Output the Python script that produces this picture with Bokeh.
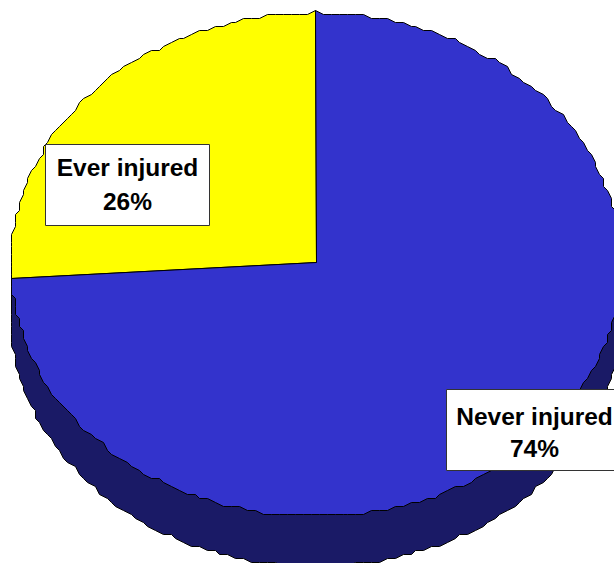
import numpy as np
from bokeh.plotting import figure
from bokeh.embed import file_html
from bokeh.resources import INLINE
from bokeh.core.properties import value

categories = ["Ever injured", "Never injured"]
values = [26, 74]
colors = ["#FFFF00", "#3333CC"]
side_color = "#1A1A66"

CX, CY, RX, RY, DEPTH = 316, 262, 305, 252, 50
STEP = 4
label_boxes = [(45, 209, 144, 225), (446, 640, 389, 470)]
label_x = [127, 534]
label_y1 = [167, 416]
label_y2 = [201, 448]

def pt(t, dy=0):
    x = CX - RX * np.sin(t)
    y = CY - RY * np.cos(t) + dy
    return x, y

def rough(xs, ys):
    return np.round(xs / STEP) * STEP - 1, np.round(ys / STEP) * STEP + 2

p = figure(width=614, height=563, x_range=(0, 614), y_range=(563, 0),
           output_backend="svg", toolbar_location=None, min_border=0)
p.axis.visible = False
p.grid.visible = False
p.outline_line_color = None

total = sum(values)

# extruded side: lower rim shifted by depth, closed across the pie's middle
ts = np.radians(np.arange(90, 271, 1.5))
x2, y2 = rough(*pt(ts, DEPTH))
p.patch(np.r_[x2[0], x2, x2[-1]], np.r_[CY, y2, CY],
        fill_color=side_color, line_color="#000000", line_width=1)

# top slices
start = 0.0
for v, c in zip(values, colors):
    ang = v / total * 2 * np.pi
    ts = np.linspace(start, start + ang, int(v * 3.6 / 1.5) + 2)
    x, y = rough(*pt(ts))
    p.patch(np.r_[CX, x], np.r_[CY, y], fill_color=c, line_color="#000000", line_width=1)
    start += ang

for (l, r, t, b), cat, v, lx, ly1, ly2 in zip(label_boxes, categories, values, label_x, label_y1, label_y2):
    p.quad(left=l, right=r, top=t, bottom=b, fill_color="#FFFFFF", line_color="#333333", line_width=1)
    for ty, s in ((ly1, cat), (ly2, f"{v}%")):
        p.text([lx], [ty], text=[s], text_align="center", text_baseline="middle",
               text_font=value("Liberation Sans"), text_font_style="bold",
               text_font_size="24.5px", text_color="#000000")

open("out.html", "w").write(file_html(p, INLINE))
